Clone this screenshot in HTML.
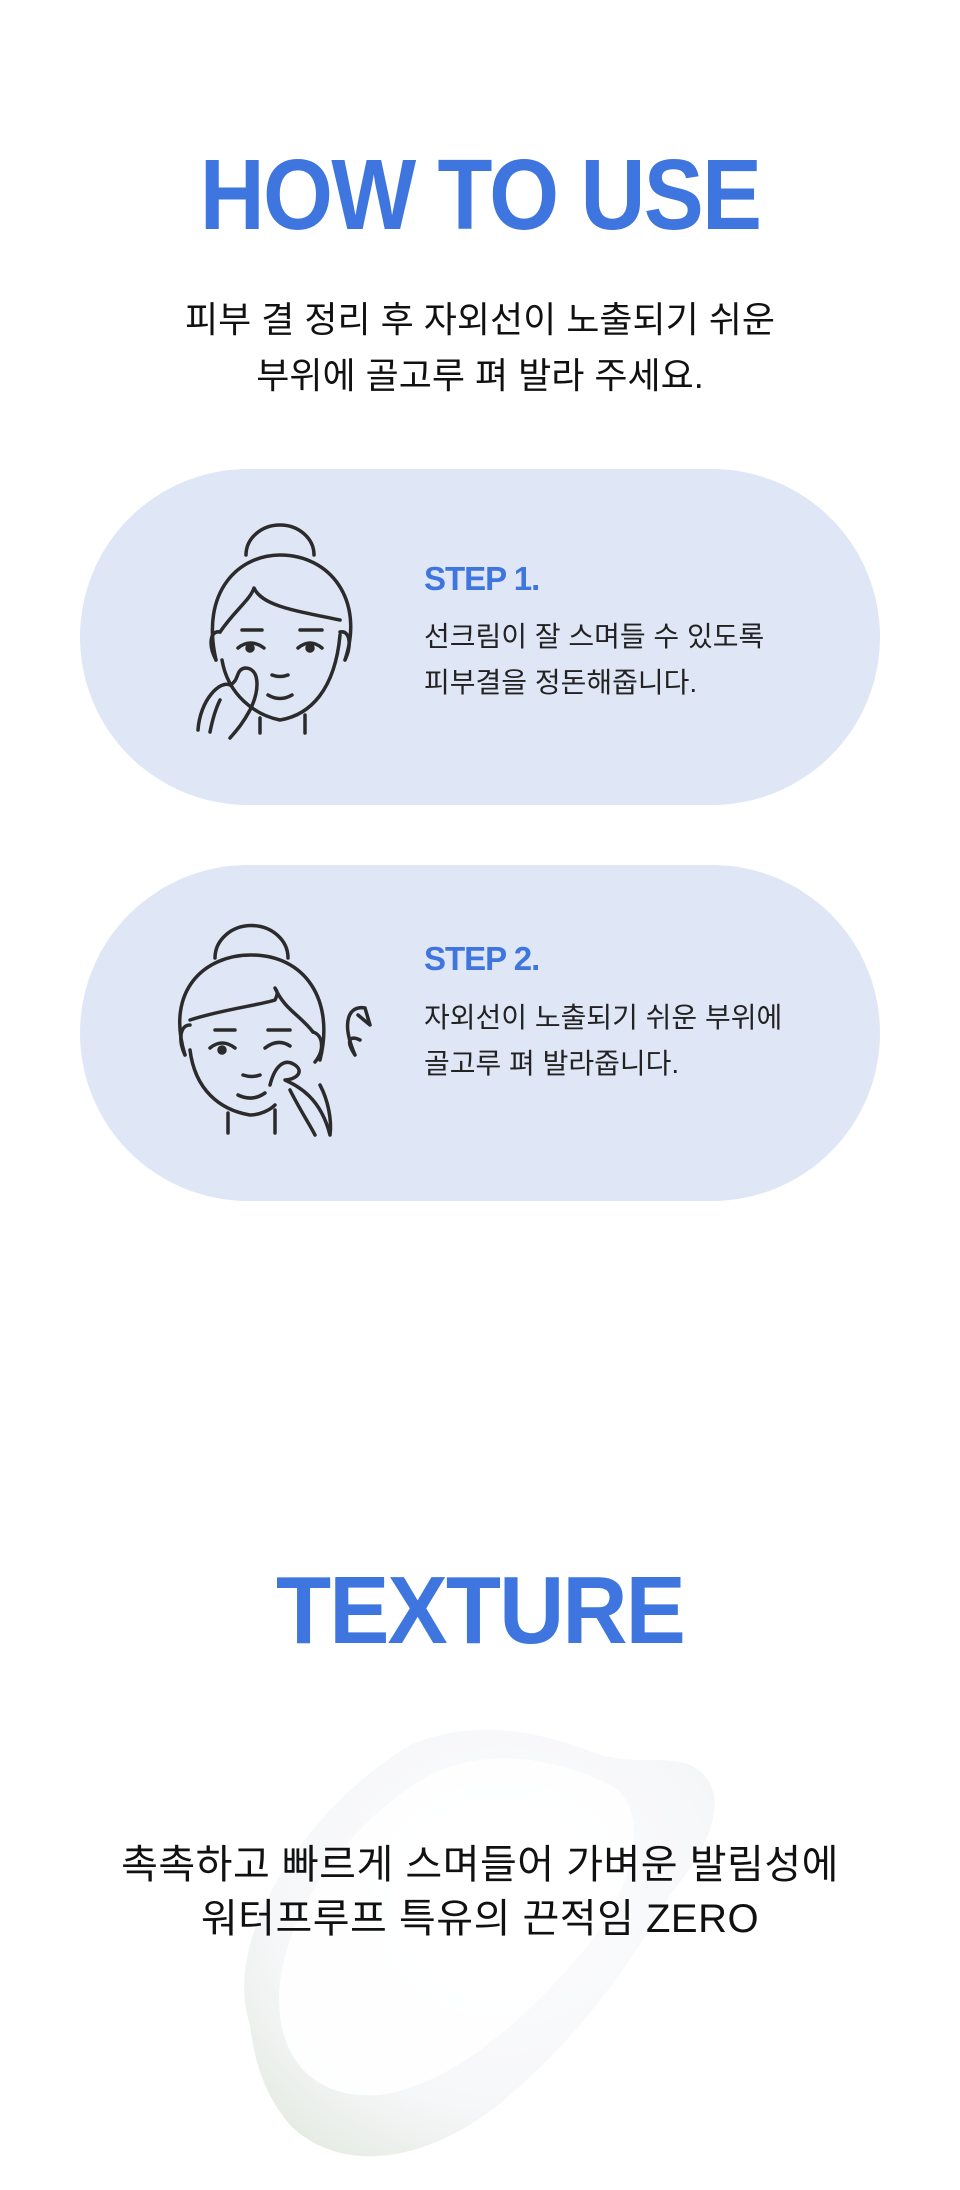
<!DOCTYPE html>
<html><head><meta charset="utf-8"><style>
body{margin:0;width:960px;height:2190px;background:#fff;position:relative;overflow:hidden;font-family:"Liberation Sans","Noto Sans CJK KR",sans-serif;}
.h{position:absolute;left:0;width:960px;text-align:center;color:#3f75de;font-weight:bold;letter-spacing:-2px;}
.t{position:absolute;left:0;width:960px;text-align:center;color:#111;}
.card{position:absolute;left:80px;width:800px;height:336px;border-radius:168px;background:#dfe6f5;}
.st{position:absolute;left:424px;color:#3f75de;font-weight:bold;font-size:33px;letter-spacing:-1px;}
.sd{position:absolute;left:424px;color:#222;font-size:28px;line-height:46px;}
svg.i{position:absolute;fill:none;stroke:#2b2b2b;stroke-width:3.5;stroke-linecap:round;stroke-linejoin:round;}
</style></head><body>
<div class="h" style="top:138px;font-size:100px;transform:scaleX(0.9);">HOW TO USE</div>
<div class="t" style="top:292px;font-size:36px;line-height:56px;">피부 결 정리 후 자외선이 노출되기 쉬운<br>부위에 골고루 펴 발라 주세요.</div>

<div class="card" style="top:469px;"></div>
<svg class="i" style="left:180px;top:510px" width="200" height="240" viewBox="0 0 200 240">
<path d="M66 45 A34 30 0 1 1 134 45"/>
<path d="M36 150 C20 80 60 45 100 45 C150 45 185 90 165 150"/>
<path d="M36 150 C28 135 30 120 40 122"/>
<path d="M165 150 C172 135 170 120 160 122"/>
<path d="M40 122 C55 100 70 90 74 78 C82 95 110 100 160 110"/>
<path d="M42 150 C48 185 75 205 100 210 C130 205 155 180 160 125"/>
<path d="M80 208 V223 M125 205 V223"/>
<path d="M62 120 H82 M120 120 H142"/>
<path d="M58 138 Q70 128 84 138 M118 138 Q130 128 142 138"/>
<circle cx="70" cy="138" r="3" fill="#2b2b2b"/><circle cx="130" cy="138" r="3" fill="#2b2b2b"/>
<path d="M92 165 Q100 168 108 165"/>
<path d="M88 185 Q100 192 112 185"/>
<path d="M18 220 C20 190 40 170 50 175 C60 170 55 160 65 158 C80 158 80 180 70 200 C62 215 55 222 50 228"/>
<path d="M40 190 C35 200 32 212 30 222"/>
</svg>
<div class="st" style="top:560px;">STEP 1.</div>
<div class="sd" style="top:614px;">선크림이 잘 스며들 수 있도록<br>피부결을 정돈해줍니다.</div>

<div class="card" style="top:865px;"></div>
<svg class="i" style="left:160px;top:900px" width="240" height="260" viewBox="0 0 240 260">
<path d="M55 58 A36 32 0 1 1 128 58"/>
<path d="M25 155 C5 90 45 55 91 55 C145 55 175 100 160 160"/>
<path d="M25 155 C18 140 20 125 30 125"/>
<path d="M155 162 C165 150 163 135 153 132"/>
<path d="M30 120 C60 110 100 105 115 100 C120 90 115 90 115 88 C125 110 140 115 153 132"/>
<path d="M30 150 C35 190 60 210 90 215 C100 215 110 210 115 205"/>
<path d="M68 213 V233 M115 210 V233"/>
<path d="M55 130 H75 M108 130 H130"/>
<path d="M50 148 Q62 138 75 148 M105 148 Q118 138 130 146"/>
<circle cx="62" cy="150" r="3" fill="#2b2b2b"/>
<path d="M83 175 Q92 178 100 175"/>
<path d="M78 195 Q92 202 105 193"/>
<path d="M110 185 C115 165 125 158 135 165 C145 172 135 180 125 180 C135 185 160 195 170 235 M130 190 C140 210 150 225 155 235 M160 185 C168 200 172 220 170 235"/>
<path d="M195 155 C180 120 190 105 205 108 M205 108 L210 125 L198 115 M195 155 C185 140 190 135 200 140"/>
</svg>
<div class="st" style="top:940px;">STEP 2.</div>
<div class="sd" style="top:995px;">자외선이 노출되기 쉬운 부위에<br>골고루 펴 발라줍니다.</div>

<div class="h" style="top:1556px;font-size:96px;transform:scaleX(0.94);">TEXTURE</div>
<svg style="position:absolute;left:220px;top:1715px" width="530" height="460" viewBox="0 0 530 460">
<defs>
<radialGradient id="g" cx="0.55" cy="0.4" r="0.7"><stop offset="0" stop-color="#fdfdfe"/><stop offset="0.7" stop-color="#f6f7f9"/><stop offset="1" stop-color="#e6ece4"/></radialGradient>
</defs>
<path d="M30 310 C0 220 90 90 190 30 C260 0 330 20 380 40 C420 50 440 40 470 50 C510 70 500 120 450 180 C410 250 360 320 290 380 C210 450 120 460 70 410 C45 380 35 350 30 310Z" fill="url(#g)"/>
<path d="M60 300 C50 220 120 110 210 60 C270 30 340 45 390 70 C430 90 420 170 360 240 C300 310 230 370 160 380 C100 385 65 350 60 300Z" fill="#fff" opacity="0.85"/>
</svg>
<div class="t" style="top:1838px;font-size:40px;line-height:54px;letter-spacing:0.5px;">촉촉하고 빠르게 스며들어 가벼운 발림성에<br>워터프루프 특유의 끈적임 ZERO</div>
</body></html>
